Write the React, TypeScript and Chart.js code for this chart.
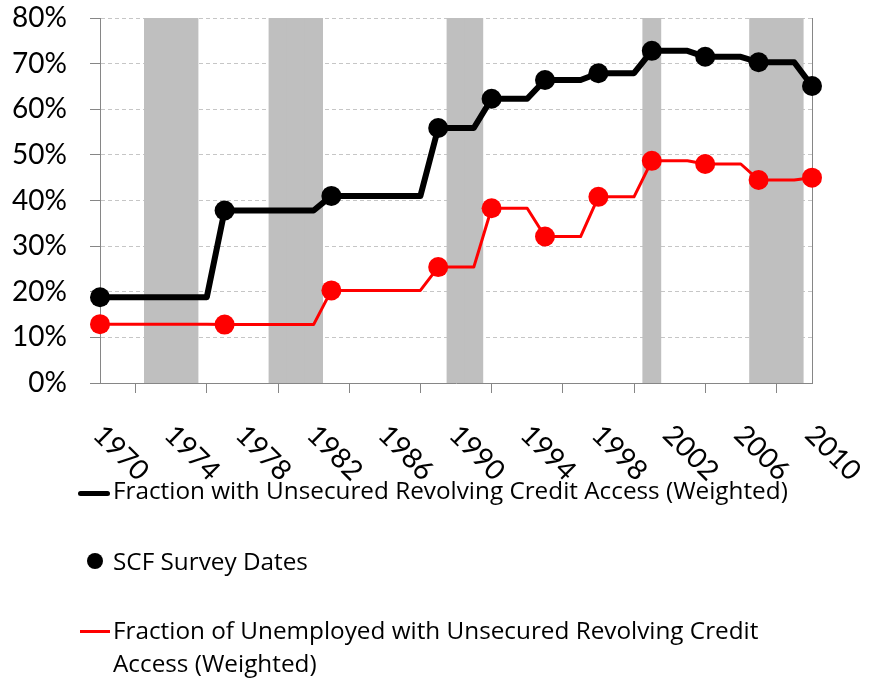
import { useEffect, useRef } from "react";
import { Chart, registerables } from "chart.js";

Chart.register(...registerables);

// ---- Data ----
const years = [
  1970, 1971, 1972, 1973, 1974, 1975, 1976, 1977, 1978, 1979,
  1980, 1981, 1982, 1983, 1984, 1985, 1986, 1987, 1988, 1989,
  1990, 1991, 1992, 1993, 1994, 1995, 1996, 1997, 1998, 1999,
  2000, 2001, 2002, 2003, 2004, 2005, 2006, 2007, 2008, 2009,
  2010,
];

// Fraction with unsecured revolving credit access (weighted), % — yearly step values
const allAccess = [
  18.8, 18.8, 18.8, 18.8, 18.8, 18.8, 18.8, 37.8, 37.8, 37.8,
  37.8, 37.8, 37.8, 41.0, 41.0, 41.0, 41.0, 41.0, 41.0, 55.9,
  55.9, 55.9, 62.3, 62.3, 62.3, 66.4, 66.4, 66.4, 67.9, 67.9,
  67.9, 72.8, 72.8, 72.8, 71.5, 71.5, 71.5, 70.3, 70.3, 70.3,
  65.1,
];

// Fraction of unemployed with unsecured revolving credit access (weighted), %
const unemployedAccess = [
  12.9, 12.9, 12.9, 12.9, 12.9, 12.9, 12.9, 12.8, 12.8, 12.8,
  12.8, 12.8, 12.8, 20.3, 20.3, 20.3, 20.3, 20.3, 20.3, 25.4,
  25.4, 25.4, 38.3, 38.3, 38.3, 32.1, 32.1, 32.1, 40.8, 40.8,
  40.8, 48.7, 48.7, 48.7, 48.0, 48.0, 48.0, 44.5, 44.5, 44.5,
  45.0,
];

// SCF survey dates
const surveyYears = [1970, 1977, 1983, 1989, 1992, 1995, 1998, 2001, 2004, 2007, 2010];

// Recession years (shaded)
const recessionYears = [1973, 1974, 1975, 1980, 1981, 1982, 1990, 1991, 2001, 2007, 2008, 2009];
const recessionTop = 80;

const xTickLabels = ["1970", "1974", "1978", "1982", "1986", "1990", "1994", "1998", "2002", "2006", "2010"];

const legendLabels = [
  "Fraction with Unsecured Revolving Credit Access (Weighted)",
  "SCF Survey Dates",
  "Fraction of Unemployed with Unsecured Revolving Credit",
  "Access (Weighted)",
];

const FONT = "Lato";
const LEGEND_FONT = "'Open Sans'";

const xLabelPlugin = {
  id: "rotatedXLabels",
  afterDraw(chart: any) {
    const sx = chart.scales.x;
    const ctx = chart.ctx as CanvasRenderingContext2D;
    ctx.save();
    ctx.font = `28px ${FONT}`;
    ctx.fillStyle = "#000";
    ctx.textAlign = "left";
    ctx.textBaseline = "middle";
    xTickLabels.forEach((lbl) => {
      const x = sx.getPixelForValue(Number(lbl));
      ctx.save();
      ctx.translate(x - 2, sx.top + 47);
      ctx.rotate(Math.PI / 4);
      ctx.fillText(lbl, 0, 0);
      ctx.restore();
    });
    ctx.restore();
  },
};

const noPad = (s: any) => {
  s.paddingTop = 0;
  s.paddingBottom = 0;
  s.paddingLeft = 0;
  s.paddingRight = 0;
};

export default function App() {
  const ref = useRef<HTMLCanvasElement>(null);

  useEffect(() => {
    if (!ref.current) return;
    const toXY = (vals: number[]) => years.map((y, i) => ({ x: y, y: vals[i] }));
    const surveyXY = (vals: number[]) =>
      surveyYears.map((y) => ({ x: y, y: vals[years.indexOf(y)] }));

    const chart = new Chart(ref.current, {
      type: "line",
      data: {
        datasets: [
          {
            type: "scatter" as any,
            data: surveyXY(allAccess),
            showLine: false,
            pointRadius: 10,
            pointHoverRadius: 10,
            pointBackgroundColor: "#000000",
            pointBorderWidth: 0,
            clip: false as any,
            order: 0,
          },
          {
            type: "scatter" as any,
            data: surveyXY(unemployedAccess),
            showLine: false,
            pointRadius: 10,
            pointHoverRadius: 10,
            pointBackgroundColor: "#FF0000",
            pointBorderWidth: 0,
            clip: false as any,
            order: 0,
          },
          {
            type: "line",
            data: toXY(allAccess),
            borderColor: "#000000",
            borderWidth: 6,
            pointRadius: 0,
            tension: 0,
            borderJoinStyle: "round",
            borderCapStyle: "round",
            order: 1,
          },
          {
            type: "line",
            data: toXY(unemployedAccess),
            borderColor: "#FF0000",
            borderWidth: 3,
            pointRadius: 0,
            tension: 0,
            borderJoinStyle: "round",
            order: 1,
          },
          {
            type: "bar",
            data: recessionYears.map((y) => ({ x: y, y: recessionTop })),
            backgroundColor: "#BFBFBF",
            borderWidth: 0,
            barPercentage: 1,
            categoryPercentage: 1,
            inflateAmount: 0.5,
            order: 5,
          } as any,
        ],
      },
      options: {
        animation: false,
        responsive: false,
        maintainAspectRatio: false,
        layout: { padding: { top: 18, left: 0, right: 0, bottom: 0 } },
        plugins: {
          legend: { display: false },
          tooltip: { enabled: false },
        },
        scales: {
          x: {
            type: "linear",
            position: "bottom",
            min: 1970,
            max: 2010,
            offset: false,
            ticks: { stepSize: 4, display: false },
            grid: {
              drawOnChartArea: false,
              drawTicks: true,
              tickLength: 10,
              color: "#868686",
              tickColor: "#868686",
            },
            border: { display: true, color: "#868686", width: 1 },
            afterFit: (s: any) => {
              s.height = 298;
              noPad(s);
            },
          },
          y: {
            position: "left",
            min: 0,
            max: 80,
            ticks: {
              stepSize: 10,
              callback: (v: any) => `${v}%`,
              color: "#000",
              padding: 23,
              font: { family: FONT, size: 28 },
            },
            grid: {
              color: "#C6C6C6",
              tickColor: "#868686",
              tickLength: 10,
              tickBorderDash: [],
              drawTicks: true,
            },
            border: { display: true, color: "#868686", width: 1, dash: [4, 3] },
            afterFit: (s: any) => {
              s.width = 100;
              noPad(s);
            },
          },
          y2: {
            position: "right",
            min: 0,
            max: 80,
            ticks: { display: false },
            grid: { display: false, drawTicks: false },
            border: { display: true, color: "#868686", width: 1 },
            afterFit: (s: any) => {
              s.width = 57;
              noPad(s);
            },
          },
        },
      },
      plugins: [xLabelPlugin],
    } as any);
    return () => chart.destroy();
  }, []);

  const textStyle: any = {
    position: "absolute",
    left: 113,
    fontFamily: LEGEND_FONT,
    fontSize: 24.3,
    lineHeight: "33px",
    color: "#000",
    whiteSpace: "nowrap",
  };

  return (
    <div
      style={{
        position: "absolute",
        left: 0,
        top: 0,
        width: 869,
        height: 681,
        background: "#fff",
        overflow: "hidden",
      }}
    >
      <canvas
        ref={ref}
        width={869}
        height={681}
        style={{ position: "absolute", left: 0, top: 0, width: 869, height: 681 }}
      />
      <div
        style={{
          position: "absolute",
          left: 78,
          top: 490.5,
          width: 32,
          height: 5,
          background: "#000",
          borderRadius: 2.5,
        }}
      />
      <div style={{ ...textStyle, top: 473.4 }}>{legendLabels[0]}</div>
      <div
        style={{
          position: "absolute",
          left: 87,
          top: 553,
          width: 16,
          height: 16,
          background: "#000",
          borderRadius: "50%",
        }}
      />
      <div style={{ ...textStyle, top: 544 }}>{legendLabels[1]}</div>
      <div
        style={{
          position: "absolute",
          left: 80,
          top: 629.5,
          width: 30,
          height: 3,
          background: "#FF0000",
        }}
      />
      <div style={{ ...textStyle, top: 613 }}>
        {legendLabels[2]}
        <br />
        {legendLabels[3]}
      </div>
    </div>
  );
}
